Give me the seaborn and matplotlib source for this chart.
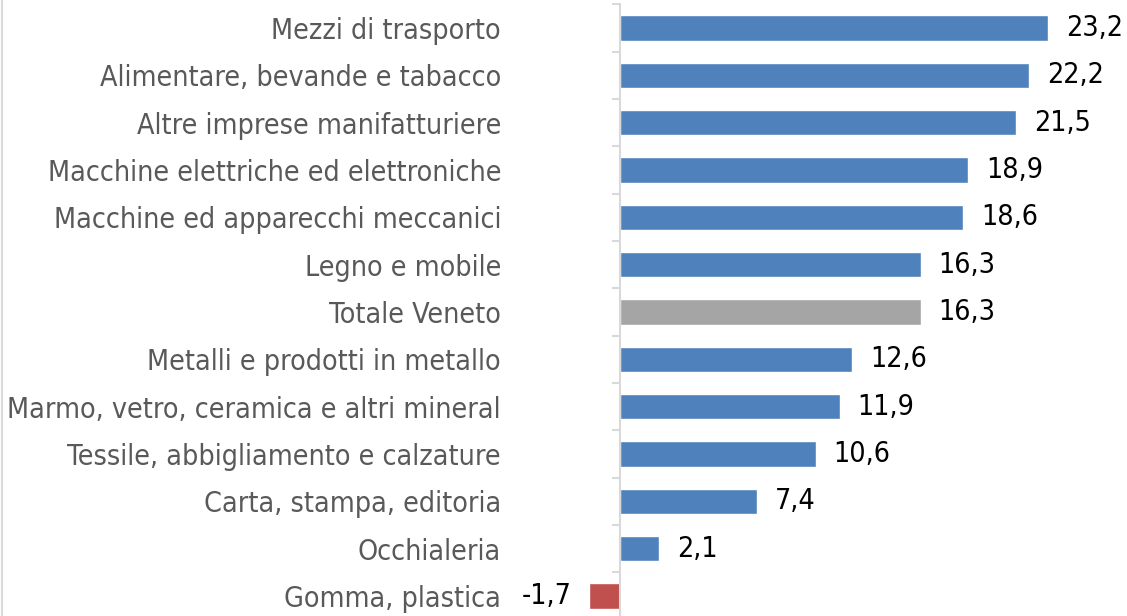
import matplotlib
matplotlib.use("Agg")
import matplotlib.pyplot as plt
import seaborn as sns
from matplotlib.lines import Line2D

categories = [
    "Mezzi di trasporto",
    "Alimentare, bevande e tabacco",
    "Altre imprese manifatturiere",
    "Macchine elettriche ed elettroniche",
    "Macchine ed apparecchi meccanici",
    "Legno e mobile",
    "Totale Veneto",
    "Metalli e prodotti in metallo",
    "Marmo, vetro, ceramica e altri mineral",
    "Tessile, abbigliamento e calzature",
    "Carta, stampa, editoria",
    "Occhialeria",
    "Gomma, plastica",
]
values = [23.2, 22.2, 21.5, 18.9, 18.6, 16.3, 16.3, 12.6, 11.9, 10.6, 7.4, 2.1, -1.7]
bar_colors = ["#4F81BD"] * 6 + ["#A5A5A5"] + ["#4F81BD"] * 5 + ["#C0504D"]

sns.set_theme(style="white")
plt.rcParams["font.family"] = ["DejaVu Sans"]

W, H = 1127, 616
fig = plt.figure(figsize=(W / 100, H / 100), dpi=100)
ax = fig.add_axes([0, -3.7 / H, 1, 615.4 / H])

sns.barplot(x=values, y=categories, hue=categories, palette=bar_colors,
            legend=False, width=0.53, orient="h", ax=ax, saturation=1)

scale = 18.41
zero_px = 620.5
ax.set_xlim(-zero_px / scale, (W - zero_px) / scale)
ax.set_ylim(12.5, -0.5)

for s in ["top", "right", "bottom"]:
    ax.spines[s].set_visible(False)
ax.spines["left"].set_position(("data", 0))
ax.spines["left"].set_color("#D9D9D9")
ax.spines["left"].set_linewidth(1.5)
ax.set_xticks([])
ax.set_xlabel("")
ax.set_ylabel("")

ax.set_yticks(range(len(categories)))
ax.set_yticklabels(categories)
ax.tick_params(axis="y", which="major", length=0, pad=86, labelsize=20.5,
               labelcolor="#595959")
for t in ax.get_yticklabels():
    t.set_fontstretch("condensed")
ax.set_yticks([i - 0.5 for i in range(len(categories) + 1)], minor=True)
ax.tick_params(axis="y", which="minor", length=5.5, width=1.5, color="#D9D9D9",
               direction="out", left=True)

labels = [f"{v:.1f}".replace(".", ",") for v in values]
for cont in ax.containers:
    ax.bar_label(cont, labels=[labels[categories.index(cat)] for cat in [categories[int(round(b.get_y() + b.get_height() / 2))] for b in cont]],
                 padding=13, fontsize=20.5, color="black", fontstretch="condensed")

fig.add_artist(Line2D([0.0015, 0.0015], [0, 1], transform=fig.transFigure,
                      color="#D9D9D9", linewidth=1.5))

fig.savefig("out.png", dpi=100)
